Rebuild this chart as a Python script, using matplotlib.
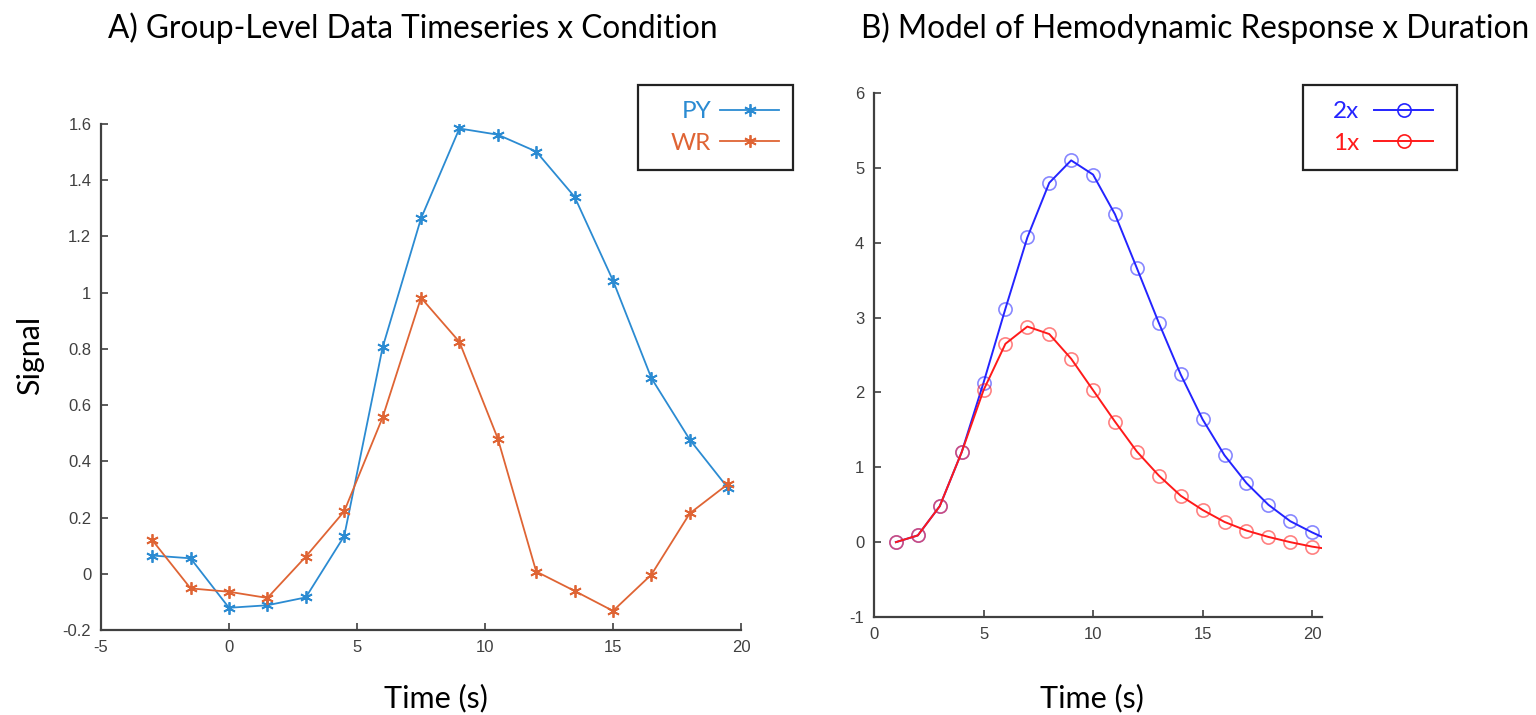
import numpy as np
import matplotlib.pyplot as plt
from matplotlib.patches import Rectangle
from matplotlib.ticker import FormatStrFormatter

plt.rcParams['axes.unicode_minus'] = False

# Panel A: group-level timeseries
time_a = [-3, -1.5, 0, 1.5, 3, 4.5, 6, 7.5, 9, 10.5, 12, 13.5, 15, 16.5, 18, 19.5]
py_signal = [0.065, 0.055, -0.121, -0.112, -0.084, 0.134, 0.805, 1.264, 1.584, 1.562,
             1.502, 1.341, 1.043, 0.696, 0.477, 0.304]
wr_signal = [0.120, -0.052, -0.064, -0.086, 0.061, 0.222, 0.556, 0.982, 0.825, 0.481,
             0.008, -0.061, -0.132, -0.003, 0.215, 0.320]

# Panel B: modelled HRF, markers at 1..20 s, curve runs on to the axis edge
time_b = [1, 2, 3, 4, 5, 6, 7, 8, 9, 10, 11, 12, 13, 14, 15, 16, 17, 18, 19, 20, 20.45]
hrf_2x = [0.0, 0.09, 0.48, 1.20, 2.13, 3.12, 4.07, 4.80, 5.10, 4.91, 4.38, 3.66, 2.93,
          2.24, 1.64, 1.16, 0.79, 0.50, 0.28, 0.13, 0.07]
hrf_1x = [0.0, 0.09, 0.48, 1.20, 2.03, 2.65, 2.88, 2.78, 2.45, 2.03, 1.61, 1.21, 0.89,
          0.62, 0.43, 0.27, 0.155, 0.07, 0.0, -0.06, -0.08]

W, H = 1536, 715
fig = plt.figure(figsize=(W / 100, H / 100), dpi=100)

label_font = 'Lato'
tick_font = 'Liberation Sans'
axis_gray = '#404040'

blue_a = '#2b8bd2'
orange_a = '#df6434'
blue_b = '#2424ff'
red_b = '#ff1a1a'
asterisk = (6, 2, 0)


def style_axes(ax):
    for side in ['top', 'right']:
        ax.spines[side].set_visible(False)
    for side in ['left', 'bottom']:
        ax.spines[side].set_color(axis_gray)
        ax.spines[side].set_linewidth(1.6)
    ax.tick_params(direction='in', length=5, width=1.2, colors=axis_gray,
                   labelsize=12, pad=7)
    for lab in ax.get_xticklabels() + ax.get_yticklabels():
        lab.set_family(tick_font)


def px_rect(x0, y0, x1, y1):
    # pixel box (top-left origin) -> figure fraction rect
    return [x0 / W, 1 - y1 / H, (x1 - x0) / W, (y1 - y0) / H]


def boxed_legend(ax, text_x, top_y, box, colors, textpad):
    leg = ax.legend(loc='upper left', bbox_to_anchor=(text_x / W, 1 - top_y / H),
                    bbox_transform=fig.transFigure, markerfirst=False, frameon=False,
                    prop={'family': label_font, 'size': 17.5}, handlelength=2.45,
                    borderpad=0, labelspacing=0.45, borderaxespad=0,
                    handletextpad=textpad)
    for txt, c in zip(leg.get_texts(), colors):
        txt.set_color(c)
    x0, y0, x1, y1 = box
    fig.patches.append(Rectangle((x0 / W, 1 - y1 / H), (x1 - x0) / W, (y1 - y0) / H,
                                 transform=fig.transFigure, fill=False,
                                 edgecolor='#222222', lw=1.6))
    return leg


# ---- A ----
ax1 = fig.add_axes(px_rect(101, 124, 741, 630))
ax1.plot(time_a, py_signal, '-', color=blue_a, lw=1.3, marker=asterisk, ms=9,
         mew=1.3, label='PY')
ax1.plot(time_a, wr_signal, '-', color=orange_a, lw=1.3, marker=asterisk, ms=9,
         mew=1.3, label='WR')
ax1.set_xlim(-5, 20)
ax1.set_ylim(-0.2, 1.6)
ax1.set_xticks([-5, 0, 5, 10, 15, 20])
ax1.set_yticks(np.round(np.arange(-0.2, 1.61, 0.2), 1))
ax1.yaxis.set_major_formatter(FormatStrFormatter('%g'))
style_axes(ax1)
ax1.set_ylabel('Signal', fontsize=22, family=label_font, va='center')
ax1.yaxis.set_label_coords(-0.111, 0.543)
ax1.set_xlabel('Time (s)', fontsize=22, family=label_font, va='center')
ax1.xaxis.set_label_coords(0.523, -0.134)

boxed_legend(ax1, 671, 101, (638, 85, 793, 170), [blue_a, orange_a], 0.35)

# ---- B ----
ax2 = fig.add_axes(px_rect(874, 93, 1322, 617))
mk = dict(marker='o', ms=9.5, mfc='none', mew=1.2, markevery=list(range(20)))
ax2.plot(time_b, hrf_2x, '-', color=blue_b, lw=1.4,
         mec=(0.15, 0.15, 1, 0.55), label='2x', **mk)
ax2.plot(time_b, hrf_1x, '-', color=red_b, lw=1.4,
         mec=(1, 0.1, 0.1, 0.55), label='1x', **mk)
ax2.set_xlim(0, 20.45)
ax2.set_ylim(-1, 6)
ax2.set_xticks([0, 5, 10, 15, 20])
ax2.set_yticks(range(-1, 7))
style_axes(ax2)
ax2.set_xlabel('Time (s)', fontsize=22, family=label_font, va='center')
ax2.xaxis.set_label_coords(0.487, -0.155)

leg2 = boxed_legend(ax2, 1333, 101, (1303, 85, 1457, 170), [blue_b, red_b], 0.6)
for h in leg2.legend_handles:
    h.set_markeredgecolor(h.get_color())

# titles
fig.text(413 / W, 1 - 28 / H, 'A) Group-Level Data Timeseries x Condition',
         ha='center', va='center', fontsize=22.7, family=label_font)
fig.text(1195 / W, 1 - 28 / H, 'B) Model of Hemodynamic Response x Duration',
         ha='center', va='center', fontsize=22.7, family=label_font)

fig.savefig('out.png', dpi=100)
